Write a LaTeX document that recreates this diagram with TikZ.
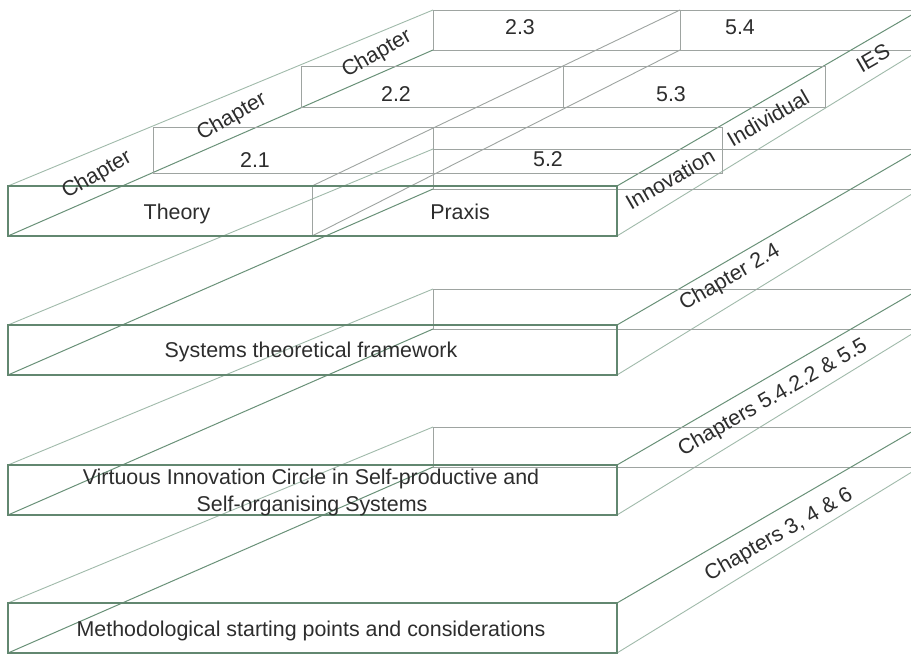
\documentclass[tikz,border=0pt]{standalone}
\usepackage{fontspec}
\setmainfont{Liberation Sans}
\definecolor{frontc}{RGB}{98,135,112}
\definecolor{edgec}{RGB}{105,145,120}
\definecolor{lightc}{RGB}{160,186,170}
\definecolor{grayc}{RGB}{158,164,161}
\definecolor{txtc}{RGB}{45,45,45}
\begin{document}
\begin{tikzpicture}[x=1pt,y=-1pt,
  front/.style={draw=frontc,line width=1.5pt},
  darkedge/.style={draw=edgec,line width=1pt},
  lightedge/.style={draw=lightc,line width=0.9pt},
  inner/.style={draw=grayc,line width=0.9pt},
  lbl/.style={font=\fontsize{21.4}{27}\selectfont,text=txtc,inner sep=0pt},
  side/.style={lbl,rotate=30},
]
\clip (0,0) rectangle (911,655);
\fill[white] (0,0) rectangle (911,655);

% four wireframe slabs, front face 8..617 wide, back face shifted and shrunk
\foreach \T [count=\i] in {186,325,465,603} {
  \coordinate (ftl\i) at (8,\T);
  \coordinate (ftr\i) at (617,\T);
  \coordinate (fbl\i) at (8,\T+50);
  \coordinate (fbr\i) at (617,\T+50);
  \coordinate (btl\i) at (433,\T-176);
  \coordinate (btr\i) at (920,\T-176);
  \coordinate (bbl\i) at (433,\T-136);
  \coordinate (bbr\i) at (920,\T-136);
  % back face
  \draw[inner] (btl\i) -- (btr\i) -- (bbr\i) -- (bbl\i) -- cycle;
  % depth edges
  \draw[lightedge] (ftl\i) -- (btl\i);
  \draw[darkedge] (fbl\i) -- (bbl\i);
  \draw[darkedge] (ftr\i) -- (btr\i);
  \draw[lightedge] (fbr\i) -- (bbr\i);
}

% sections of the top slab
\draw[inner] (153,127) rectangle (722,173);
\draw[inner] (433,127) -- (433,173);
\draw[inner] (301,66) rectangle (825,107);
\draw[inner] (563,66) -- (563,107);
\draw[inner] (680,10) -- (680,50);
% Theory / Praxis dividing plane
\draw[inner] (312,186) -- (312,236);
\draw[inner] (312,186) -- (680,10);
\draw[inner] (312,236) -- (680,50);

% front faces
\foreach \i in {1,2,3,4} {
  \draw[front] (ftl\i) -- (ftr\i) -- (fbr\i) -- (fbl\i) -- cycle;
}

% front labels
\node[lbl,anchor=base] (theory) at (177,220) {Theory};
\node[lbl,anchor=base] (praxis) at (460,220) {Praxis};
\node[lbl,anchor=base] (c21) at (255,168) {2.1};
\node[lbl,anchor=base] (c52) at (548,167) {5.2};
\node[lbl,anchor=base] (c22) at (396,102) {2.2};
\node[lbl,anchor=base] (c53) at (671,102) {5.3};
\node[lbl,anchor=base] (c23) at (520,35) {2.3};
\node[lbl,anchor=base] (c54) at (740,35) {5.4};
\node[lbl,anchor=base] (systems) at (311,357) {Systems theoretical framework};
\node[lbl,anchor=base] (virt1) at (311,484) {Virtuous Innovation Circle in Self-productive and};
\node[lbl,anchor=base] (virt2) at (312,511) {Self-organising Systems};
\node[lbl,anchor=base] (method) at (311,636) {Methodological starting points and considerations};

% labels on the sloped side faces
\node[side] (ch1) at (97,175) {Chapter};
\node[side] (ch2) at (232,117) {Chapter};
\node[side] (ch3) at (377,54) {Chapter};
\node[side] (inno) at (670,179) {Innovation};
\node[side] (indiv) at (768,118) {Individual};
\node[side] (ies) at (873,58) {IES};
\node[side] (ch24) at (730,278) {Chapter 2.4};
\node[side] (ch55) at (773,398) {Chapters 5.4.2.2 \& 5.5};
\node[side] (ch346) at (779,535) {Chapters 3, 4 \& 6};
\end{tikzpicture}
\end{document}
